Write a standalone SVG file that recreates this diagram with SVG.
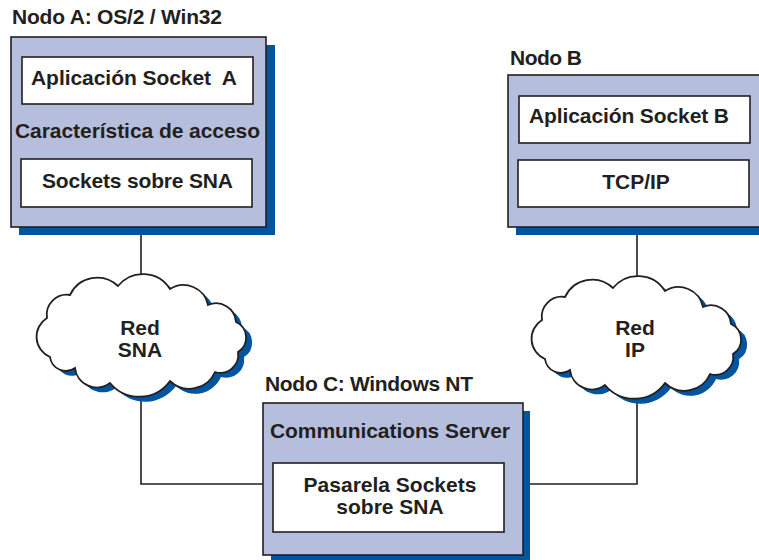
<svg xmlns="http://www.w3.org/2000/svg" xmlns:xlink="http://www.w3.org/1999/xlink" width="759" height="560" viewBox="0 0 759 560">
  <style>
    .bg { fill: #ffffff; }
    .txt { font-family: "Liberation Sans", Arial, Helvetica, sans-serif; font-weight: bold; font-size: 21px; fill: #231f20; }
    .mid { text-anchor: middle; }
    .outer { fill: #b6bedd; stroke: #231f20; stroke-width: 1.6; }
    .inner { fill: #ffffff; stroke: #231f20; stroke-width: 1.6; }
    .shadow { fill: #0054a0; }
    .wire { fill: none; stroke: #231f20; stroke-width: 1.6; }
    .cloud { fill: #ffffff; stroke: #231f20; stroke-width: 1.8; }
  </style>
  <defs>
    <!-- lobed cloud outline, centred on the origin -->
    <path id="cloudShape" d="M-91,22 A22,22 0 0 1 -94,-17 A20,20 0 0 1 -71,-40 A30,30 0 0 1 -23,-49 A32,32 0 0 1 29,-46 A25,25 0 0 1 67,-30 A20,20 0 0 1 95,-13 A17,17 0 0 1 97,17 A18,18 0 0 1 74,37 A28,28 0 0 1 29,46 A38,38 0 0 1 -31,48 A22,22 0 0 1 -66,33 A16,16 0 0 1 -91,22 Z"/>
  </defs>

  <rect class="bg" x="0" y="0" width="759" height="560"/>

  <!-- links between the nodes -->
  <g id="connectors">
    <path class="wire" d="M141,227 V484 H263"/>
    <path class="wire" d="M637,228 V484 H523"/>
  </g>

  <!-- Node A -->
  <g id="nodeA">
    <text class="txt" x="12" y="24" textLength="210">Nodo A: OS/2 / Win32</text>
    <rect class="shadow" x="19" y="45" width="256" height="190"/>
    <rect class="outer" x="11" y="37" width="255" height="190"/>
    <rect class="inner" x="22" y="57" width="231" height="47"/>
    <text class="txt" x="31" y="85" textLength="206">Aplicación Socket&#160; A</text>
    <text class="txt mid" x="137.5" y="138" textLength="245">Característica de acceso</text>
    <rect class="inner" x="21" y="159" width="231" height="48"/>
    <text class="txt mid" x="137.5" y="188" textLength="191">Sockets sobre SNA</text>
  </g>

  <!-- Node B -->
  <g id="nodeB">
    <text class="txt" x="510" y="65" textLength="72">Nodo B</text>
    <rect class="shadow" x="516" y="83" width="260" height="152"/>
    <rect class="outer" x="508" y="75" width="260" height="152"/>
    <rect class="inner" x="519" y="96" width="231" height="47"/>
    <text class="txt" x="529" y="123" textLength="200">Aplicación Socket B</text>
    <rect class="inner" x="518" y="160" width="231" height="47"/>
    <text class="txt mid" x="636" y="189">TCP/IP</text>
  </g>

  <!-- SNA network -->
  <g id="cloudSNA">
    <use xlink:href="#cloudShape" class="shadow" transform="translate(147,340)"/>
    <use xlink:href="#cloudShape" class="cloud" transform="translate(141,335)"/>
    <text class="txt mid" x="140" y="335">Red</text>
    <text class="txt mid" x="140" y="357">SNA</text>
  </g>

  <!-- IP network -->
  <g id="cloudIP">
    <use xlink:href="#cloudShape" class="shadow" transform="translate(642,342)"/>
    <use xlink:href="#cloudShape" class="cloud" transform="translate(636,337)"/>
    <text class="txt mid" x="635" y="335">Red</text>
    <text class="txt mid" x="635" y="357">IP</text>
  </g>

  <!-- Node C -->
  <g id="nodeC">
    <text class="txt" x="265" y="391" textLength="208">Nodo C: Windows NT</text>
    <rect class="shadow" x="271" y="411" width="259" height="152"/>
    <rect class="outer" x="263" y="403" width="260" height="152"/>
    <text class="txt mid" x="390" y="438" textLength="240">Communications Server</text>
    <rect class="inner" x="273" y="463" width="231" height="69"/>
    <text class="txt mid" x="390" y="492">Pasarela Sockets</text>
    <text class="txt mid" x="390" y="514">sobre SNA</text>
  </g>
</svg>
